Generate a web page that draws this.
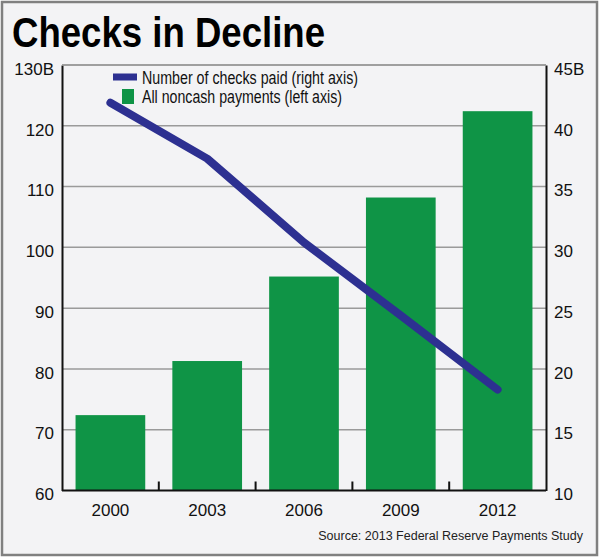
<!DOCTYPE html>
<html>
<head>
<meta charset="utf-8">
<script src="https://cdn.jsdelivr.net/npm/d3@7"></script>
<style>
  body { margin: 0; background: #fff; }
  svg text { font-family: "Liberation Sans", Arial, sans-serif; fill: #111; }
</style>
</head>
<body>
<div id="wrapper"></div>
<script>
// data
const years = ['2000', '2003', '2006', '2009', '2012']
const noncashPayments = [72.4, 81.3, 95.2, 108.2, 122.4] // billions, left axis
const checksPaid = [41.9, 37.3, 30.4, 24.4, 18.3] // billions, right axis
const leftTicks = [60, 70, 80, 90, 100, 110, 120, 130]
const rightTicks = [10, 15, 20, 25, 30, 35, 40, 45]

const dimensions = {
  width: 600,
  height: 558,
  margin: { top: 65, right: 54, bottom: 67.5, left: 62 },
}
dimensions.boundedWidth =
  dimensions.width - dimensions.margin.left - dimensions.margin.right
dimensions.boundedHeight =
  dimensions.height - dimensions.margin.top - dimensions.margin.bottom

const green = '#0f9446'
const navy = '#2d3091'

const svg = d3
  .select('#wrapper')
  .append('svg')
  .attr('width', dimensions.width)
  .attr('height', dimensions.height)

// background + frame
svg
  .append('rect')
  .attr('x', 2)
  .attr('y', 2)
  .attr('width', 595)
  .attr('height', 553)
  .attr('fill', '#f3f3f5')
  .attr('stroke', '#808080')
  .attr('stroke-width', 2.5)

svg
  .append('text')
  .attr('x', 12)
  .attr('y', 47)
  .attr('textLength', 313)
  .attr('lengthAdjust', 'spacingAndGlyphs')
  .style('font-size', '42px')
  .style('font-weight', 'bold')
  .style('fill', '#000')
  .text('Checks in Decline')

const bounds = svg
  .append('g')
  .attr(
    'transform',
    `translate(${dimensions.margin.left}, ${dimensions.margin.top})`,
  )

// scales
const xScale = d3
  .scaleBand()
  .domain(years)
  .range([0, dimensions.boundedWidth])
  .paddingInner(0.28)
  .paddingOuter(0.14)

const yLeft = d3
  .scaleLinear()
  .domain([60, 130])
  .range([dimensions.boundedHeight, 0])

const yRight = d3
  .scaleLinear()
  .domain([10, 45])
  .range([dimensions.boundedHeight, 0])

// gridlines
bounds
  .append('g')
  .selectAll('line')
  .data(leftTicks.slice(1))
  .enter()
  .append('line')
  .attr('x1', 0)
  .attr('x2', dimensions.boundedWidth)
  .attr('y1', (d) => yLeft(d))
  .attr('y2', (d) => yLeft(d))
  .attr('stroke', '#9a9a9a')
  .attr('stroke-width', 1.5)

// bars
bounds
  .append('g')
  .selectAll('rect')
  .data(years)
  .enter()
  .append('rect')
  .attr('x', (d) => xScale(d))
  .attr('width', xScale.bandwidth())
  .attr('y', (d, i) => yLeft(noncashPayments[i]))
  .attr('height', (d, i) => dimensions.boundedHeight - yLeft(noncashPayments[i]))
  .attr('fill', green)

// axes
const leftAxis = bounds
  .append('g')
  .call(
    d3
      .axisLeft(yLeft)
      .tickValues(leftTicks)
      .tickSize(0)
      .tickPadding(8)
      .tickFormat((d) => (d === 130 ? '130B' : d)),
  )
const rightAxis = bounds
  .append('g')
  .attr('transform', `translate(${dimensions.boundedWidth}, 0)`)
  .call(
    d3
      .axisRight(yRight)
      .tickValues(rightTicks)
      .tickSize(0)
      .tickPadding(8)
      .tickFormat((d) => (d === 45 ? '45B' : d)),
  )
;[leftAxis, rightAxis].forEach((ax) => {
  ax.select('.domain').attr('stroke', '#111').attr('stroke-width', 2)
  ax.selectAll('text')
    .attr('dy', '0.66em')
    .attr('transform', 'translate(0, -2)')
    .style('font-size', '17px')
})

// bottom axis with ticks between categories
const bottom = bounds
  .append('g')
  .attr('transform', `translate(0, ${dimensions.boundedHeight})`)
bottom
  .append('line')
  .attr('x1', 0)
  .attr('x2', dimensions.boundedWidth)
  .attr('stroke', '#111')
  .attr('stroke-width', 2)
bottom
  .selectAll('.sep')
  .data(years.slice(1))
  .enter()
  .append('line')
  .attr('class', 'sep')
  .attr('x1', (d) => xScale(d) - (xScale.step() * xScale.paddingInner()) / 2)
  .attr('x2', (d) => xScale(d) - (xScale.step() * xScale.paddingInner()) / 2)
  .attr('y1', 0)
  .attr('y2', -9)
  .attr('stroke', '#111')
  .attr('stroke-width', 2)
bottom
  .selectAll('.lbl')
  .data(years)
  .enter()
  .append('text')
  .attr('class', 'lbl')
  .attr('x', (d) => xScale(d) + xScale.bandwidth() / 2)
  .attr('y', 25)
  .attr('text-anchor', 'middle')
  .style('font-size', '17px')
  .text((d) => d)

// top border of plot
bounds
  .append('line')
  .attr('x1', 0)
  .attr('x2', dimensions.boundedWidth)
  .attr('y1', 0)
  .attr('y2', 0)
  .attr('stroke', '#9a9a9a')
  .attr('stroke-width', 1.5)

// checks line
const lineGenerator = d3
  .line()
  .x((d, i) => xScale(years[i]) + xScale.bandwidth() / 2)
  .y((d) => yRight(d))

bounds
  .append('path')
  .datum(checksPaid)
  .attr('d', lineGenerator)
  .attr('fill', 'none')
  .attr('stroke', navy)
  .attr('stroke-width', 8)
  .attr('stroke-linecap', 'round')
  .attr('stroke-linejoin', 'round')

// legend
const legend = svg.append('g')
legend
  .append('rect')
  .attr('x', 113)
  .attr('y', 73.5)
  .attr('width', 24)
  .attr('height', 7)
  .attr('fill', navy)
legend
  .append('text')
  .attr('x', 142)
  .attr('y', 83.5)
  .attr('textLength', 216)
  .attr('lengthAdjust', 'spacingAndGlyphs')
  .style('font-size', '17.5px')
  .text('Number of checks paid (right axis)')
legend
  .append('rect')
  .attr('x', 122)
  .attr('y', 89)
  .attr('width', 12)
  .attr('height', 15)
  .attr('fill', green)
legend
  .append('text')
  .attr('x', 142)
  .attr('y', 102.5)
  .attr('textLength', 200)
  .attr('lengthAdjust', 'spacingAndGlyphs')
  .style('font-size', '17.5px')
  .text('All noncash payments (left axis)')

svg
  .append('text')
  .attr('x', 583)
  .attr('y', 540)
  .attr('text-anchor', 'end')
  .style('font-size', '12.5px')
  .style('fill', '#222')
  .text('Source: 2013 Federal Reserve Payments Study')
</script>
</body>
</html>
